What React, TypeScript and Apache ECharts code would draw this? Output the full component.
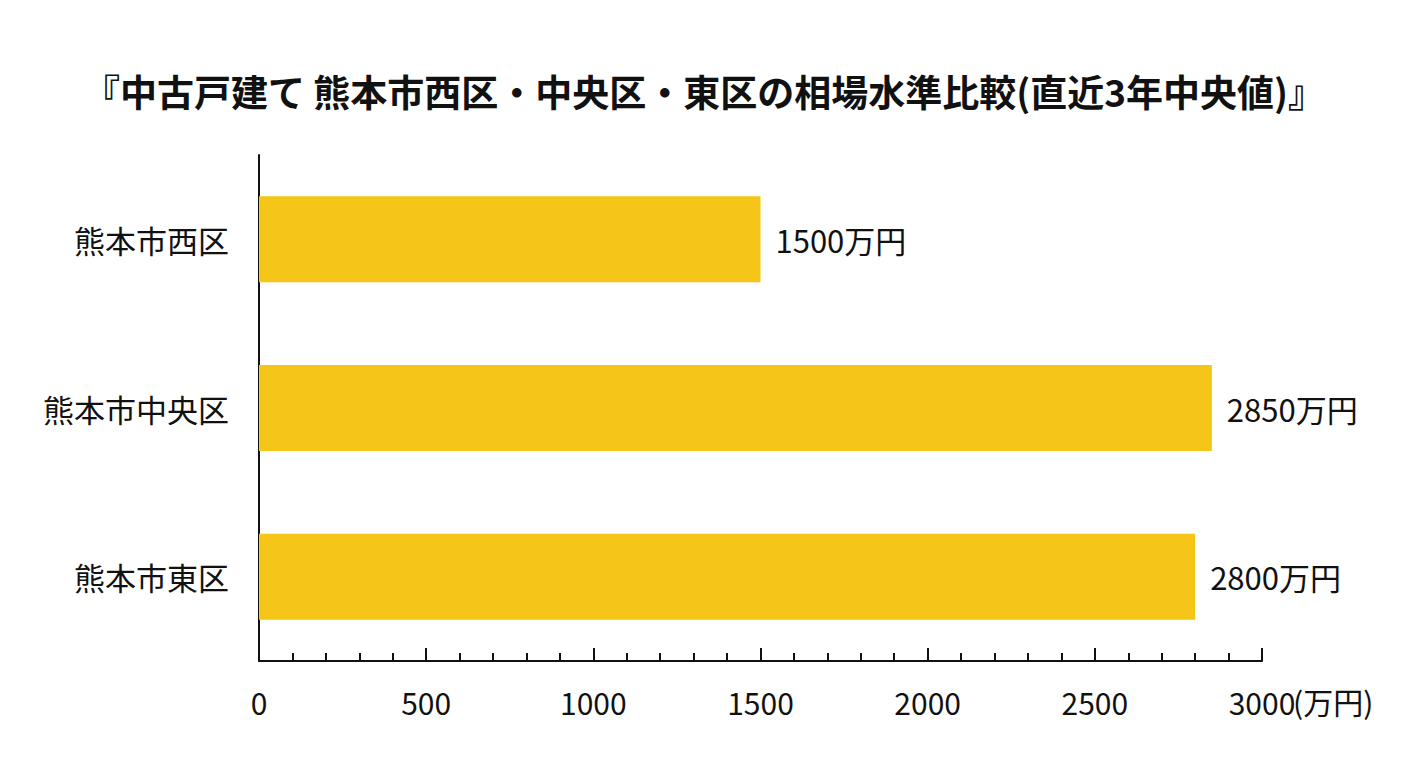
import React, { useEffect, useRef } from "react";
import * as echarts from "echarts";

const titleText = "『中古戸建て 熊本市西区・中央区・東区の相場水準比較(直近3年中央値)』";
const categories = ["熊本市西区", "熊本市中央区", "熊本市東区"];
const values = [1500, 2850, 2800];
const unitLabel = "(万円)";
const valueSuffix = "万円";

const FONT = '"Noto Sans CJK JP", "Noto Sans", sans-serif';

export default function App() {
  const ref = useRef<HTMLDivElement>(null);
  useEffect(() => {
    if (!ref.current) return;
    document.body.style.margin = "0";
    const chart = echarts.init(ref.current, undefined, { renderer: "svg" });
    chart.setOption({
      animation: false,
      backgroundColor: "#ffffff",
      textStyle: { fontFamily: FONT },
      title: {
        text: titleText,
        left: "center",
        top: 67,
        textStyle: { fontFamily: FONT, fontSize: 37, fontWeight: "bold", color: "#111" },
      },
      grid: { left: 259, right: 146, top: 155, bottom: 107, containLabel: false },
      graphic: [
        {
          type: "text",
          left: 1293,
          top: 686,
          style: { text: unitLabel, font: `30px ${FONT}`, fill: "#111" },
        },
      ],
      xAxis: {
        type: "value",
        min: 0,
        max: 3000,
        interval: 500,
        axisLine: { show: true, lineStyle: { color: "#111", width: 2 } },
        axisTick: { show: true, inside: true, length: 13, lineStyle: { color: "#111", width: 2 } },
        minorTick: { show: true, splitNumber: 5, length: 8, lineStyle: { color: "#111", width: 2 } },
        splitLine: { show: false },
        axisLabel: {
          fontFamily: FONT,
          fontSize: 30,
          color: "#111",
          margin: 26,
          formatter: (v: number) => String(v),
        },
      },
      yAxis: {
        type: "category",
        data: categories,
        inverse: true,
        axisLine: { show: true, lineStyle: { color: "#111", width: 2 } },
        axisTick: { show: false },
        axisLabel: { fontFamily: FONT, fontSize: 31, color: "#111", margin: 30 },
      },
      series: [
        {
          type: "bar",
          data: values,
          barWidth: 86,
          itemStyle: { color: "#F5C518" },
          label: {
            show: true,
            position: "right",
            distance: 15,
            fontFamily: FONT,
            fontSize: 31,
            color: "#111",
            formatter: (p: any) => `${p.value}${valueSuffix}`,
          },
        },
      ],
    });
    return () => chart.dispose();
  }, []);
  return <div ref={ref} style={{ width: 1408, height: 768 }} />;
}
